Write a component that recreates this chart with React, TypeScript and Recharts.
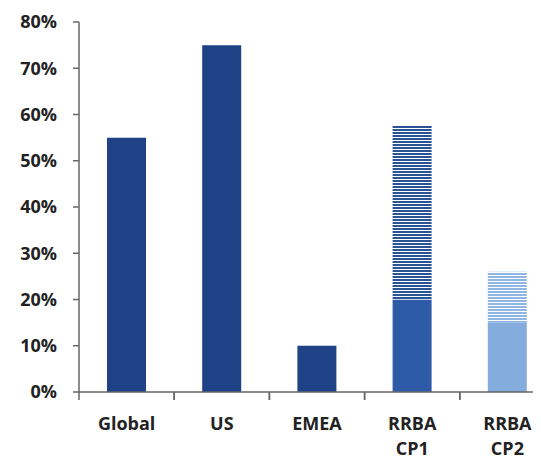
import React from 'react';
import { BarChart, Bar, XAxis, YAxis, Cell } from 'recharts';

const categories = ['Global', 'US', 'EMEA', 'RRBA CP1', 'RRBA CP2'];
const solidValues = [55, 75, 10, 20, 15];
const hatchedValues = [0, 0, 0, 37.5, 11];
const yTicks = [0, 10, 20, 30, 40, 50, 60, 70, 80];

const solidColors = ['#1f4286', '#1f4286', '#1f4286', '#2d5ba8', '#84acdd'];
const hatchFills = ['none', 'none', 'none', 'url(#hatchDark)', 'url(#hatchLight)'];

const data = categories.map((name, i) => ({
  name,
  solid: solidValues[i],
  hatched: hatchedValues[i],
}));

const FONT = '"Open Sans", sans-serif';

const XTick = (props: any) => {
  const { x, y, payload, width, visibleTicksCount } = props;
  const half =
    payload && payload.offset ? payload.offset : width / (2 * (visibleTicksCount || 5));
  const axisY = y - 25;
  const lines = String(payload.value).split(' ');
  return (
    <g>
      <line x1={x - half} x2={x - half} y1={axisY} y2={axisY + 8} stroke="#666" strokeWidth={1.5} />
      <line x1={x + half} x2={x + half} y1={axisY} y2={axisY + 8} stroke="#666" strokeWidth={1.5} />
      <text
        x={x}
        y={y}
        textAnchor="middle"
        fontFamily={FONT}
        fontWeight={700}
        fontSize={18}
        fill="#222"
      >
        {lines.map((l, i) => (
          <tspan key={i} x={x} dy={i === 0 ? '0.71em' : 25}>
            {l}
          </tspan>
        ))}
      </text>
    </g>
  );
};

export default function App() {
  return (
    <div style={{ marginLeft: -8, marginTop: -8, width: 560, height: 461 }}>
      <BarChart
        width={560}
        height={461}
        data={data}
        margin={{ top: 22, right: 5, bottom: 0, left: 0 }}
        barSize={39}
      >
        <defs>
          <pattern id="hatchDark" width="4" height="3" patternUnits="userSpaceOnUse">
            <rect width="4" height="3" fill="#ffffff" />
            <rect width="4" height="2" fill="#2b5495" />
          </pattern>
          <pattern id="hatchLight" width="4" height="3" patternUnits="userSpaceOnUse">
            <rect width="4" height="3" fill="#ffffff" />
            <rect width="4" height="2" fill="#8fb5e3" />
          </pattern>
        </defs>
        <XAxis
          dataKey="name"
          height={69}
          interval={0}
          tickLine={false}
          tickSize={8}
          tickMargin={17}
          axisLine={{ stroke: '#666', strokeWidth: 1.5 }}
          tick={<XTick />}
        />
        <YAxis
          width={79}
          domain={[0, 80]}
          ticks={yTicks}
          interval={0}
          tickFormatter={(v: number) => `${v}%`}
          tickSize={6}
          tickMargin={16}
          axisLine={{ stroke: '#666', strokeWidth: 1.5 }}
          tickLine={{ stroke: '#666', strokeWidth: 1.5 }}
          tick={{ fontFamily: FONT, fontWeight: 700, fontSize: 18, fill: '#222' }}
        />
        <Bar dataKey="solid" stackId="a" isAnimationActive={false}>
          {data.map((_, i) => (
            <Cell key={i} fill={solidColors[i]} />
          ))}
        </Bar>
        <Bar dataKey="hatched" stackId="a" isAnimationActive={false}>
          {data.map((_, i) => (
            <Cell key={i} fill={hatchFills[i]} />
          ))}
        </Bar>
      </BarChart>
    </div>
  );
}
